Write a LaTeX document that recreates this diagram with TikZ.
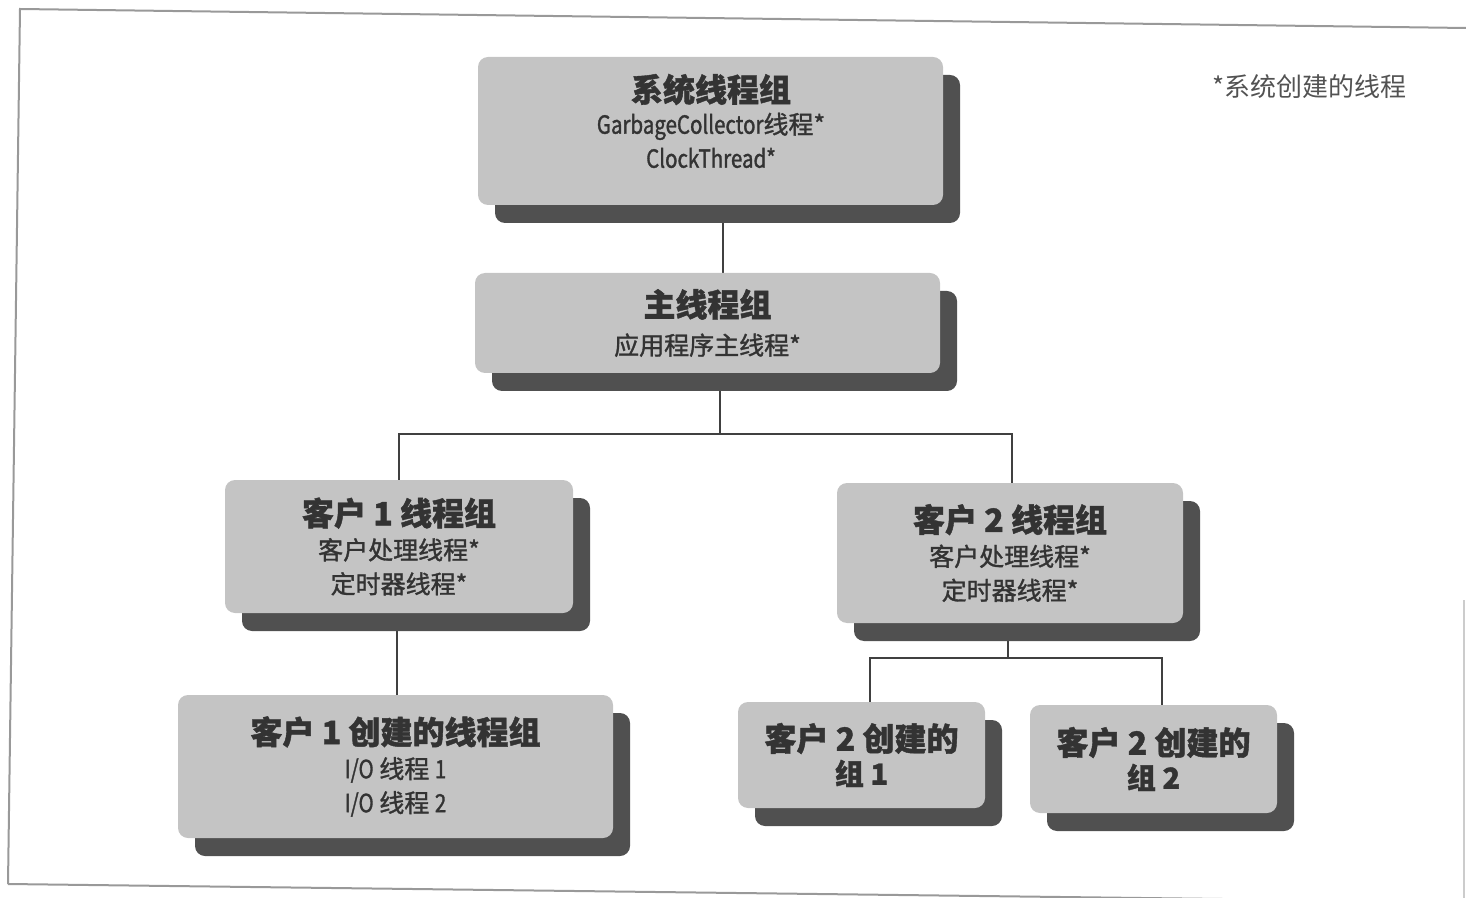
\documentclass[tikz,border=0pt]{standalone}
\usepackage{fontspec}
\setmainfont{Noto Sans CJK SC}[FakeBold=1.3]
\newfontfamily\cnd{Noto Sans CJK SC}[FakeStretch=0.82, FakeBold=1.3]
\newfontfamily\notefont{Noto Sans CJK SC}
\usetikzlibrary{shadows,backgrounds,calc}
\definecolor{boxgray}{HTML}{C4C4C4}
\definecolor{shadowgray}{HTML}{505050}
\definecolor{inkgray}{HTML}{333333}
\definecolor{linegray}{HTML}{404040}
\newcommand{\tl}[1]{{\fontsize{16}{18}\selectfont\bfseries #1}}
\tikzset{
  groupbox/.style={rounded corners=5pt, fill=boxgray, draw=none, inner sep=0pt,
    text=inkgray, align=center, font=\fontsize{12.5}{17}\selectfont,
    drop shadow={shadow xshift=8.5pt, shadow yshift=-9pt, fill=shadowgray, opacity=1}},
  boxtext/.style={text=inkgray, align=center, inner sep=0pt, font=\fontsize{12.5}{17}\selectfont},
  conn/.style={draw=linegray, line width=1.3pt},
  frameline/.style={draw=gray!80, line width=1pt},
  note/.style={text=inkgray!85, font=\notefont\fontsize{13}{15}\selectfont, inner sep=0pt}
}
\begin{document}
\begin{tikzpicture}[x=0.5pt,y=-0.5pt]
\useasboundingbox (0,0) rectangle (1466,898);
% frame
\draw[frameline] (8,884) -- (20,9) -- (1466,28);
\draw[frameline] (8,884) -- (1466,902);
\draw[draw=gray!40, line width=0.8pt] (1464,600) -- (1464,898);

% boxes
\node[groupbox, minimum width=232.5pt, minimum height=74pt] (b1) at (710.5,131) {};
\node[boxtext] (b1t) at (711,121) {\tl{系统线程组}\\[-1pt] {\cnd GarbageCollector}线程*\\ {\cnd ClockThread*}};
\node[groupbox, minimum width=232.5pt, minimum height=50pt] (b2) at (707.5,323)
  {\tl{主线程组}\\[2pt] 应用程序主线程*};
\node[groupbox, minimum width=174pt, minimum height=66.5pt] (c1) at (399,546.5)
  {\tl{客户 1 线程组}\\ 客户处理线程*\\ 定时器线程*};
\node[groupbox, minimum width=173pt, minimum height=70pt] (c2) at (1010,553)
  {\tl{客户 2 线程组}\\ 客户处理线程*\\ 定时器线程*};
\node[groupbox, minimum width=217.5pt, minimum height=71.5pt] (d1) at (395.5,766.5)
  {\tl{客户 1 创建的线程组}\\ {\cnd I/O} 线程 {\cnd 1}\\ {\cnd I/O} 线程 {\cnd 2}};
\node[groupbox, minimum width=123.5pt, minimum height=53pt] (e1) at (861.5,755)
  {\tl{客户 2 创建的}\\ {\fontsize{14.5}{17}\selectfont\bfseries 组 1}};
\node[groupbox, minimum width=123.5pt, minimum height=54pt] (e2) at (1153.5,759)
  {\tl{客户 2 创建的}\\ {\fontsize{14.5}{17}\selectfont\bfseries 组 2}};

\node[note, anchor=west] (nt) at (1212,87) {*系统创建的线程};

% junction points
\coordinate (j1) at (720,434);
\coordinate (j2) at (1008,658);

\begin{scope}[on background layer]
\draw[conn] ([xshift=6.25pt]b1.south) -- ([xshift=6.25pt]b1.south |- b2.north);
\draw[conn] (b2.south -| j1) -- (j1);
\draw[conn] (c1.north) |- (j1) -| ([xshift=1pt]c2.north);
\draw[conn] ([xshift=-1pt]c1.south) -- ([xshift=-1pt]c1.south |- d1.north);
\draw[conn] (c2.south -| j2) -- (j2);
\draw[conn] ([xshift=4.25pt]e1.north) |- (j2) -| ([xshift=4.25pt]e2.north);
\end{scope}
\end{tikzpicture}
\end{document}
